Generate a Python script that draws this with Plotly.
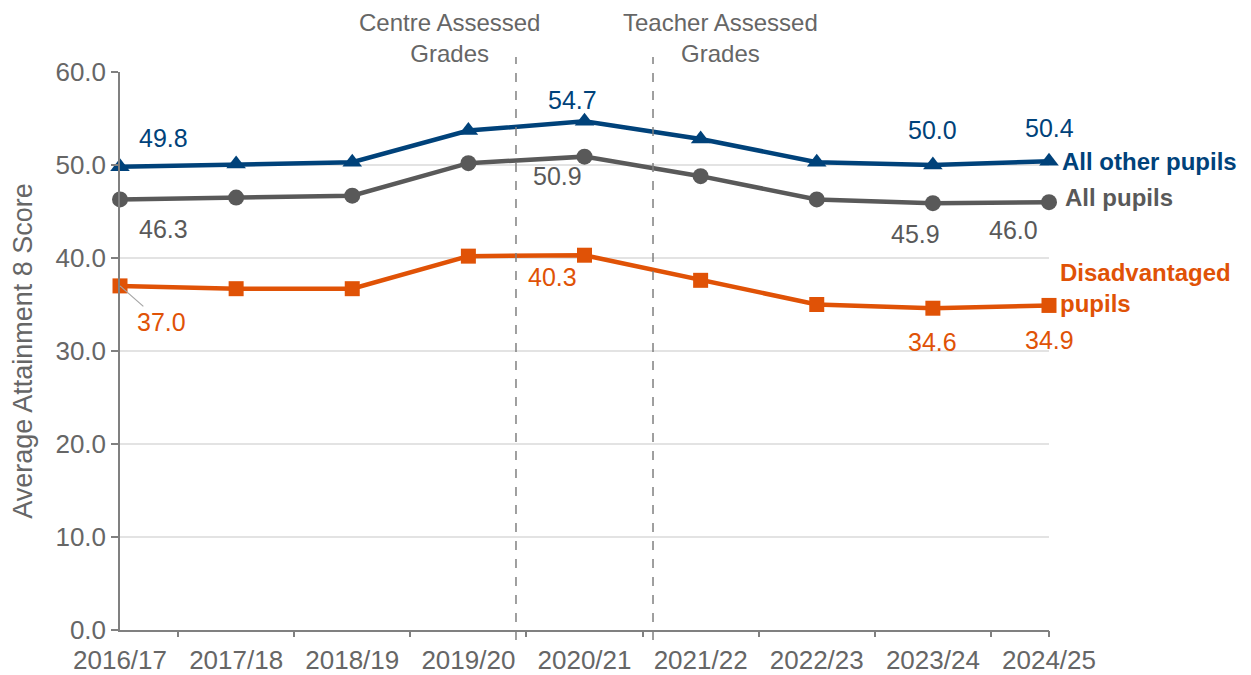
import plotly.graph_objects as go

years = ["2016/17", "2017/18", "2018/19", "2019/20", "2020/21",
         "2021/22", "2022/23", "2023/24", "2024/25"]
all_other = [49.8, 50.1, 50.3, 53.7, 54.7, 52.8, 50.3, 50.0, 50.4]
all_pupils = [46.3, 46.5, 46.7, 50.2, 50.9, 48.8, 46.3, 45.9, 46.0]
disadvantaged = [37.0, 36.7, 36.7, 40.2, 40.3, 37.6, 35.0, 34.6, 34.9]
y_ticks = [0, 10, 20, 30, 40, 50, 60]

NAVY = "#00427A"
GREY = "#595959"
ORANGE = "#E05206"
TXT = "#666666"
FONT = "Liberation Sans, Arial, sans-serif"
NUM = 26
TS = 24

xs = list(range(len(years)))

fig = go.Figure()
fig.add_trace(go.Scatter(x=xs, y=disadvantaged, mode="lines+markers",
                         line=dict(color=ORANGE, width=4.5),
                         marker=dict(symbol="square", size=15, color=ORANGE),
                         cliponaxis=False, name="Disadvantaged pupils"))
fig.add_trace(go.Scatter(x=xs, y=all_pupils, mode="lines+markers",
                         line=dict(color=GREY, width=4.5),
                         marker=dict(symbol="circle", size=16, color=GREY),
                         cliponaxis=False, name="All pupils"))
fig.add_trace(go.Scatter(x=xs, y=all_other, mode="lines+markers",
                         line=dict(color=NAVY, width=4.5),
                         marker=dict(symbol="triangle-up", size=17, color=NAVY),
                         cliponaxis=False, name="All other pupils"))
# invisible trace for secondary x axis tick marks
fig.add_trace(go.Scatter(x=[0], y=[0], xaxis="x2", mode="markers",
                         marker=dict(opacity=0), showlegend=False, hoverinfo="skip"))

ann = []
def lab(i, series, text, color, dx, dy):
    ann.append(dict(x=xs[i], y=series[i], xref="x", yref="y", text=text,
                    showarrow=False, xshift=dx, yshift=-dy,
                    font=dict(family=FONT, size=NUM - 1, color=color)))

# All other pupils labels
lab(0, all_other, "49.8", NAVY, 43, -29)
lab(4, all_other, "54.7", NAVY, -12, -21)
lab(7, all_other, "50.0", NAVY, 0, -35)
lab(8, all_other, "50.4", NAVY, 0, -33)
# All pupils labels
lab(0, all_pupils, "46.3", GREY, 43, 30)
lab(4, all_pupils, "50.9", GREY, -27, 19)
lab(7, all_pupils, "45.9", GREY, -17, 31)
lab(8, all_pupils, "46.0", GREY, -36, 28)
# Disadvantaged labels
ann.append(dict(x=xs[0], y=disadvantaged[0], xref="x", yref="y", text="37.0",
                showarrow=True, arrowhead=0, arrowwidth=1.2, arrowcolor="#A6A6A6",
                ax=41, ay=36, font=dict(family=FONT, size=NUM - 1, color=ORANGE)))
lab(4, disadvantaged, "40.3", ORANGE, -32, 22)
lab(7, disadvantaged, "34.6", ORANGE, 0, 34)
lab(8, disadvantaged, "34.9", ORANGE, 0, 35)

# series name labels
ann.append(dict(x=xs[8], y=all_other[8], xref="x", yref="y", text="<b>All other pupils</b>",
                showarrow=False, xanchor="left", xshift=11, yshift=0,
                font=dict(family=FONT, size=TS, color=NAVY)))
ann.append(dict(x=xs[8], y=all_pupils[8], xref="x", yref="y", text="<b>All pupils</b>",
                showarrow=False, xanchor="left", xshift=14, yshift=5,
                font=dict(family=FONT, size=TS, color=GREY)))
ann.append(dict(x=xs[8], y=disadvantaged[8], xref="x", yref="y",
                text="<b>Disadvantaged<br>pupils</b>", align="left",
                showarrow=False, xanchor="left", xshift=9, yshift=17,
                font=dict(family=FONT, size=TS, color=ORANGE)))

# period annotations
ann.append(dict(x=2.84, y=1.0, xref="x", yref="paper", yanchor="bottom", yshift=3,
                text="Centre Assessed<br>Grades", showarrow=False,
                font=dict(family=FONT, size=TS, color=TXT)))
ann.append(dict(x=5.17, y=1.0, xref="x", yref="paper", yanchor="bottom", yshift=3,
                text="Teacher Assessed<br>Grades", showarrow=False,
                font=dict(family=FONT, size=TS, color=TXT)))

shapes = []
for xv in [3.41, 4.59]:
    shapes.append(dict(type="line", xref="x", yref="paper", x0=xv, x1=xv,
                       y0=-0.018, y1=1.027,
                       line=dict(color="#808080", width=1.5, dash="dash")))

fig.update_layout(
    width=1251, height=675,
    margin=dict(l=112, r=210, t=64, b=53, autoexpand=False),
    paper_bgcolor="white", plot_bgcolor="white",
    showlegend=False,
    font=dict(family=FONT, size=NUM, color=TXT),
    annotations=ann, shapes=shapes,
    xaxis=dict(range=[0, 8], tickvals=xs, ticktext=years, ticks="",
               ticklabelstandoff=6,
               showgrid=False, zeroline=False, showline=True,
               linecolor="#808080", linewidth=1.5,
               tickfont=dict(family=FONT, size=NUM, color=TXT)),
    xaxis2=dict(range=[0, 8], overlaying="x", side="bottom", anchor="y",
                tickvals=[0.5, 1.5, 2.5, 3.5, 4.5, 5.5, 6.5, 7.5, 8],
                ticks="outside", ticklen=6, tickwidth=1.5, tickcolor="#808080",
                showticklabels=False, showgrid=False, zeroline=False, showline=False),
    yaxis=dict(range=[0, 60], tickvals=y_ticks,
               ticktext=[f"{v:.1f}" for v in y_ticks],
               ticks="outside", ticklen=7, tickwidth=1.5, tickcolor="#808080",
               showgrid=True, gridcolor="#E3E3E3", gridwidth=1.5,
               zeroline=False, showline=True, linecolor="#808080", linewidth=1.5,
               tickfont=dict(family=FONT, size=NUM, color=TXT),
               title=dict(text="Average Attainment 8 Score", standoff=16,
                          font=dict(family=FONT, size=27, color=TXT))),
)

fig.write_html("out.html")
